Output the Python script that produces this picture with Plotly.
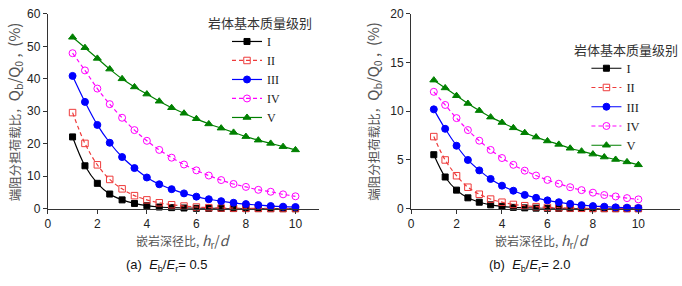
import plotly.graph_objects as go

x_vals = [1, 1.5, 2, 2.5, 3, 3.5, 4, 4.5, 5, 5.5, 6, 6.5, 7, 7.5, 8, 8.5, 9, 9.5, 10]

# (a) Eb/Er = 0.5
a_I = [22.1, 13.2, 7.8, 4.5, 2.7, 1.6, 0.9, 0.5, 0.3, 0.2, 0.1, 0.06, 0.04, 0.02, 0.01, 0.01, 0.0, 0.0, 0.0]
a_II = [29.6, 20.1, 13.5, 9.0, 6.1, 4.0, 2.7, 1.8, 1.2, 0.8, 0.5, 0.3, 0.2, 0.15, 0.1, 0.07, 0.05, 0.03, 0.02]
a_III = [40.9, 32.9, 25.8, 20.3, 15.9, 12.5, 9.6, 7.5, 6.0, 4.7, 3.7, 2.9, 2.3, 1.8, 1.4, 1.1, 0.8, 0.6, 0.5]
a_IV = [47.9, 42.6, 37.0, 32.2, 28.0, 24.2, 20.9, 18.1, 15.7, 13.6, 11.8, 10.2, 8.8, 7.6, 6.7, 5.8, 5.2, 4.4, 3.8]
a_V = [52.8, 49.6, 46.3, 43.0, 40.0, 37.5, 35.3, 33.1, 31.1, 29.4, 27.7, 26.1, 24.8, 23.5, 22.2, 21.1, 20.1, 19.1, 18.1]

# (b) Eb/Er = 2.0
b_I = [5.54, 3.25, 1.9, 1.11, 0.66, 0.39, 0.23, 0.13, 0.08, 0.05, 0.03, 0.02, 0.01, 0.01, 0.0, 0.0, 0.0, 0.0, 0.0]
b_II = [7.4, 5.0, 3.38, 2.2, 1.48, 0.98, 0.66, 0.43, 0.3, 0.2, 0.13, 0.09, 0.06, 0.04, 0.03, 0.02, 0.015, 0.01, 0.01]
b_III = [10.2, 8.2, 6.46, 5.0, 3.93, 3.05, 2.36, 1.84, 1.41, 1.11, 0.85, 0.66, 0.49, 0.36, 0.26, 0.2, 0.13, 0.1, 0.07]
b_IV = [12.0, 10.65, 9.3, 8.07, 6.98, 6.03, 5.2, 4.5, 3.9, 3.4, 2.95, 2.56, 2.2, 1.9, 1.64, 1.4, 1.25, 1.08, 0.95]
b_V = [13.2, 12.4, 11.6, 10.8, 10.07, 9.4, 8.85, 8.3, 7.8, 7.35, 6.95, 6.6, 6.2, 5.9, 5.6, 5.3, 5.05, 4.8, 4.5]

names = ["I", "II", "III", "IV", "V"]
colors = ["#000000", "#ee3b3b", "#0000ff", "#ff00ff", "#008000"]
dashes = ["solid", "4px,3px", "solid", "4px,3px", "solid"]
symbols = ["square", "square-open", "circle", "circle-open", "triangle-up"]
sizes = [6, 6.5, 7, 7, 7]
legend_title = "岩体基本质量级别"

CJK = "Noto Sans CJK SC, Liberation Sans"
SERIF = "Liberation Serif, DejaVu Serif"
SANS = "Liberation Sans, Arial"

fig = go.Figure()

for series, xa, ya, lg in [([a_I, a_II, a_III, a_IV, a_V], "x", "y", "legend"),
                           ([b_I, b_II, b_III, b_IV, b_V], "x2", "y2", "legend2")]:
    for i, vals in enumerate(series):
        fig.add_trace(go.Scatter(
            x=x_vals, y=vals, name=names[i], xaxis=xa, yaxis=ya, legend=lg,
            mode="lines+markers", line=dict(color=colors[i], width=1.2, dash=dashes[i], shape="spline"),
            marker=dict(symbol=symbols[i], size=sizes[i], color=colors[i],
                        line=dict(color=colors[i], width=1)),
            cliponaxis=False,
        ))

axis_common = dict(showline=True, linecolor="#333333", linewidth=1, ticks="outside", ticklen=4,
                   tickcolor="#333333", showgrid=False, zeroline=False,
                   tickfont=dict(family=SANS, size=12, color="#222222"))

yd = [0.2587, 0.9745]
fig.update_layout(
    width=682, height=286, margin=dict(l=0, r=0, t=0, b=0),
    paper_bgcolor="white", plot_bgcolor="white",
    xaxis=dict(domain=[0.066, 0.465], range=[0, 10.94], dtick=2, anchor="y", **axis_common),
    yaxis=dict(domain=yd, range=[0, 60], dtick=10, anchor="x", **axis_common),
    xaxis2=dict(domain=[0.601, 0.997], range=[0, 11.83], dtick=2, anchor="y2", **axis_common),
    yaxis2=dict(domain=yd, range=[0, 20], dtick=5, anchor="x2", **axis_common),
    legend=dict(x=225 / 682, y=(286 - 21) / 286, xanchor="left", yanchor="top", bgcolor="rgba(0,0,0,0)",
                font=dict(family=SERIF, size=12, color="#222222"), itemwidth=30, tracegroupgap=0),
    legend2=dict(x=586 / 682, y=(286 - 49) / 286, xanchor="left", yanchor="top", bgcolor="rgba(0,0,0,0)",
                 font=dict(family=SERIF, size=12.5, color="#222222"), itemwidth=30, tracegroupgap=0),
    showlegend=True,
)

# legend titles
fig.add_annotation(xref="paper", yref="paper", showarrow=False, xanchor="left", yanchor="middle",
                   x=204 / 682, y=(286 - 16) / 286, text=legend_title,
                   font=dict(family=CJK, size=13, color="#333333"))
fig.add_annotation(xref="paper", yref="paper", showarrow=False, xanchor="right", yanchor="middle",
                   x=680 / 682, y=(286 - 45) / 286, text=legend_title,
                   font=dict(family=CJK, size=13, color="#333333"))

ytitle = ("端阻分担荷载比，<span style='font-size:15px'>Q<sub>b</sub>/Q<sub>0</sub> ,  (%)</span>")
xtitle = "嵌岩深径比, <span style='font-size:14px'><i>h</i><sub>r</sub>/<i>d</i></span>"
ymid = (yd[0] + yd[1]) / 2
ann = [
    dict(text=ytitle, x=11 / 682, y=ymid, textangle=-90, font=dict(family=CJK, size=12.5, color="#555555")),
    dict(text=ytitle, x=372 / 682, y=ymid, textangle=-90, font=dict(family=CJK, size=12.5, color="#555555")),
    dict(text=xtitle, x=181 / 682, y=(286 - 246) / 286, font=dict(family=CJK, size=12, color="#555555")),
    dict(text=xtitle, x=542 / 682, y=(286 - 246) / 286, font=dict(family=CJK, size=12, color="#555555")),
]
for a in ann:
    fig.add_annotation(xref="paper", yref="paper", showarrow=False, xanchor="center", yanchor="middle", **a)

caps = [("(a)  <i>E</i><sub>b</sub>/<i>E</i><sub>r</sub>= 0.5", 164.5 / 682),
        ("(b)  <i>E</i><sub>b</sub>/<i>E</i><sub>r</sub>= 2.0", 528.5 / 682)]
for t, xp in caps:
    fig.add_annotation(xref="paper", yref="paper", showarrow=False, xanchor="center", yanchor="middle",
                       x=xp, y=(286 - 272) / 286, text=t, font=dict(family=SANS, size=13, color="#111111"))

fig.write_html("out.html", config={"displayModeBar": False, "staticPlot": True},
               post_script="document.body.style.margin='0';document.body.style.overflow='hidden';")
